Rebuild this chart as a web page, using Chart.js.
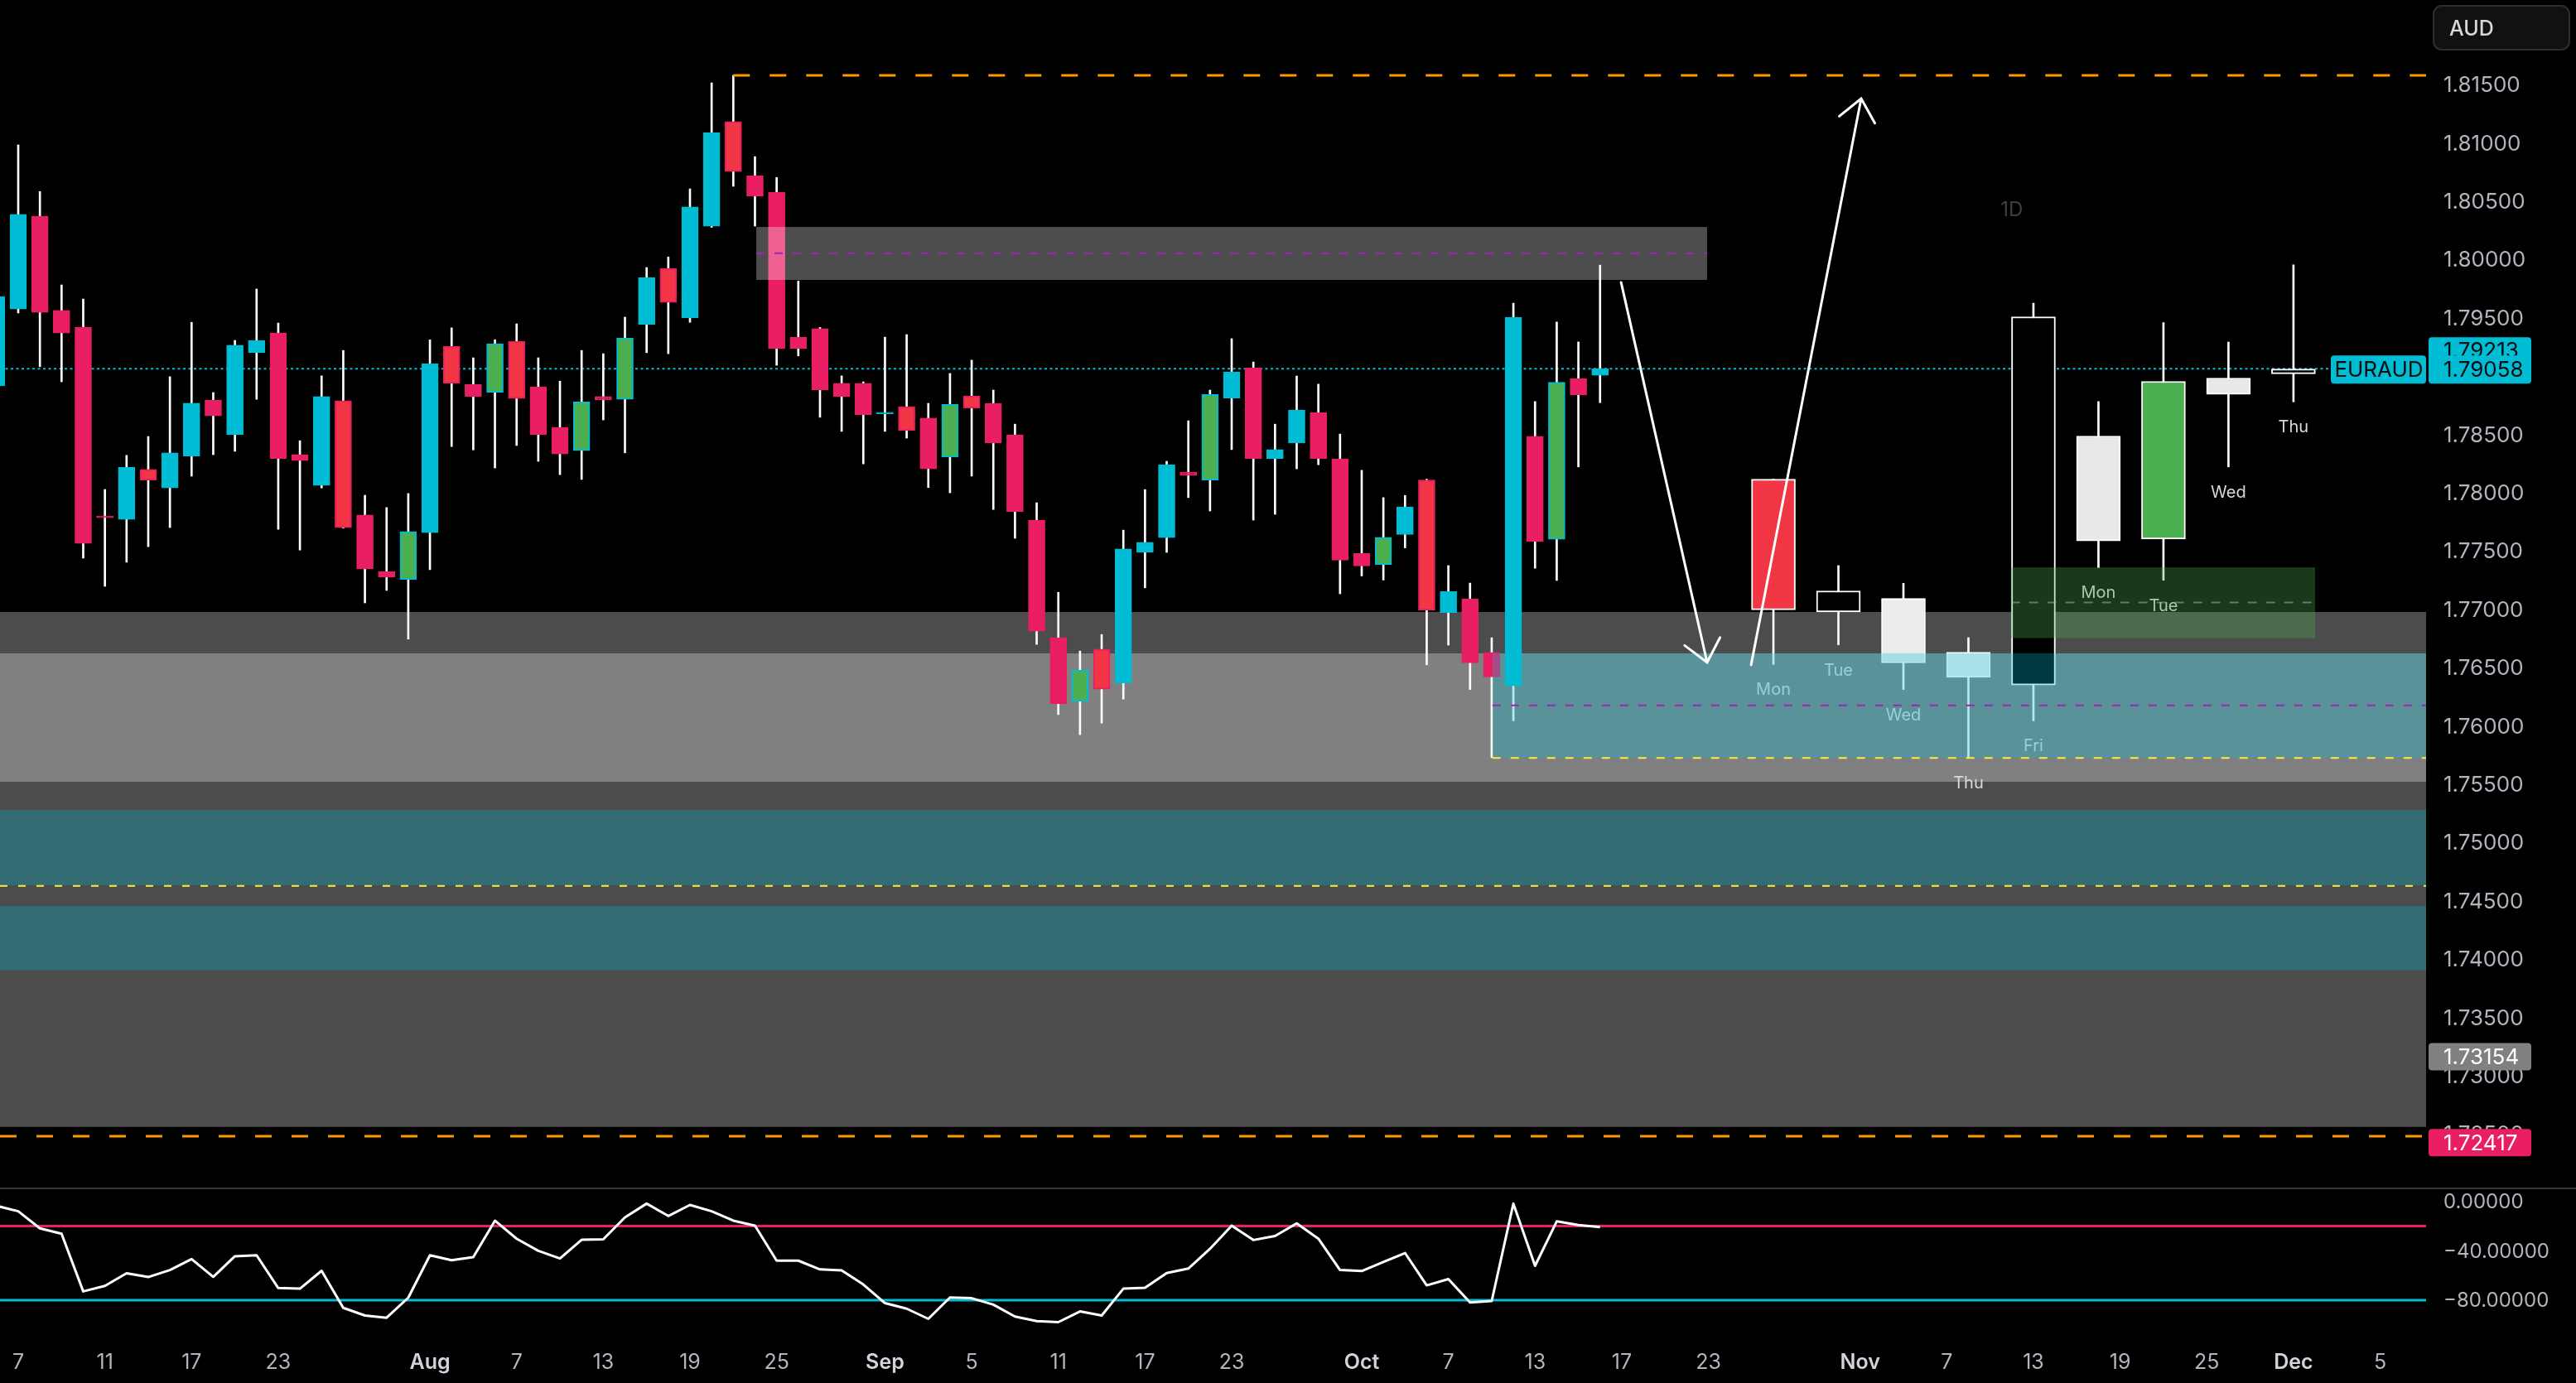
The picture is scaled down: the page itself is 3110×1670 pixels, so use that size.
<!DOCTYPE html>
<html>
<head>
<meta charset="utf-8">
<title>EURAUD 1D</title>
<script src="https://cdn.jsdelivr.net/npm/chart.js@4.4.1/dist/chart.umd.min.js"></script>
<style>
	html, body { margin: 0; padding: 0; background: #000; overflow: hidden; }
	canvas { display: block; }
</style>
</head>
<body>
<canvas id="graphique" width="3110" height="1670"></canvas>
<script>
/* global Chart */

// Daily candles, 4 July -> 16 October 2025
const dates = [
	"2025-07-04", "2025-07-07", "2025-07-08", "2025-07-09", "2025-07-10", "2025-07-11", "2025-07-14", "2025-07-15", "2025-07-16", "2025-07-17",
	"2025-07-18", "2025-07-21", "2025-07-22", "2025-07-23", "2025-07-24", "2025-07-25", "2025-07-28", "2025-07-29", "2025-07-30", "2025-07-31",
	"2025-08-01", "2025-08-04", "2025-08-05", "2025-08-06", "2025-08-07", "2025-08-08", "2025-08-11", "2025-08-12", "2025-08-13", "2025-08-14",
	"2025-08-15", "2025-08-18", "2025-08-19", "2025-08-20", "2025-08-21", "2025-08-22", "2025-08-25", "2025-08-26", "2025-08-27", "2025-08-28",
	"2025-08-29", "2025-09-01", "2025-09-02", "2025-09-03", "2025-09-04", "2025-09-05", "2025-09-08", "2025-09-09", "2025-09-10", "2025-09-11",
	"2025-09-12", "2025-09-15", "2025-09-16", "2025-09-17", "2025-09-18", "2025-09-19", "2025-09-22", "2025-09-23", "2025-09-24", "2025-09-25",
	"2025-09-26", "2025-09-29", "2025-09-30", "2025-10-01", "2025-10-02", "2025-10-03", "2025-10-06", "2025-10-07", "2025-10-08", "2025-10-09",
	"2025-10-10", "2025-10-13", "2025-10-14", "2025-10-15", "2025-10-16"
];
const opens = [
	1.78910, 1.79570, 1.80365, 1.79557, 1.79414, 1.77790, 1.77766, 1.78193, 1.78035, 1.78308,
	1.78789, 1.78491, 1.79195, 1.79364, 1.78320, 1.78057, 1.78783, 1.77803, 1.77318, 1.77251,
	1.77651, 1.79249, 1.78923, 1.78856, 1.79293, 1.78903, 1.78555, 1.78355, 1.78818, 1.78795,
	1.79436, 1.79918, 1.79494, 1.80280, 1.81177, 1.80714, 1.80571, 1.79328, 1.79401, 1.78932,
	1.78932, 1.78670, 1.78732, 1.78634, 1.78300, 1.78824, 1.78760, 1.78491, 1.77759, 1.76750,
	1.76205, 1.76652, 1.76363, 1.77482, 1.77609, 1.78170, 1.78101, 1.78805, 1.79065, 1.78285,
	1.78421, 1.78681, 1.78285, 1.77473, 1.77378, 1.77635, 1.78104, 1.76966, 1.77083, 1.76624,
	1.76338, 1.78478, 1.77594, 1.78973, 1.79001
];
const highs = [
	1.79750, 1.80977, 1.80577, 1.79776, 1.79655, 1.78022, 1.78314, 1.78476, 1.78989, 1.79455,
	1.78853, 1.79300, 1.79741, 1.79449, 1.78440, 1.78996, 1.79214, 1.77972, 1.77867, 1.77987,
	1.79306, 1.79408, 1.79151, 1.79306, 1.79442, 1.79151, 1.78951, 1.79214, 1.79186, 1.79500,
	1.79925, 1.80016, 1.80600, 1.81509, 1.81573, 1.80876, 1.80698, 1.79810, 1.79411, 1.78996,
	1.78945, 1.79328, 1.79350, 1.78760, 1.79017, 1.79131, 1.78874, 1.78582, 1.77908, 1.77140,
	1.76636, 1.76778, 1.77673, 1.78021, 1.78263, 1.78611, 1.78874, 1.79315, 1.79115, 1.78582,
	1.78995, 1.78925, 1.78497, 1.78186, 1.77952, 1.77971, 1.78110, 1.77369, 1.77219, 1.76750,
	1.79619, 1.78776, 1.79458, 1.79287, 1.79946
];
const lows = [
	1.78850, 1.79535, 1.79075, 1.78945, 1.77433, 1.77191, 1.77398, 1.77531, 1.77695, 1.78136,
	1.78320, 1.78349, 1.78795, 1.77680, 1.77502, 1.78035, 1.77690, 1.77049, 1.77156, 1.76738,
	1.77334, 1.78390, 1.78361, 1.78206, 1.78399, 1.78263, 1.78149, 1.78108, 1.78618, 1.78336,
	1.79195, 1.79186, 1.79455, 1.80270, 1.80622, 1.80280, 1.79087, 1.79167, 1.78641, 1.78520,
	1.78241, 1.78520, 1.78462, 1.78038, 1.77993, 1.78136, 1.77850, 1.77603, 1.76693, 1.76091,
	1.75919, 1.76018, 1.76224, 1.77178, 1.77482, 1.77952, 1.77837, 1.78364, 1.77759, 1.77809,
	1.78199, 1.78234, 1.77127, 1.77280, 1.77245, 1.77521, 1.76518, 1.76687, 1.76306, 1.75722,
	1.76037, 1.77346, 1.77242, 1.78215, 1.78766
];
const closes = [
	1.79677, 1.80381, 1.79541, 1.79364, 1.77559, 1.77780, 1.78212, 1.78102, 1.78336, 1.78761,
	1.78653, 1.79259, 1.79300, 1.78286, 1.78269, 1.78818, 1.77695, 1.77340, 1.77271, 1.77661,
	1.79100, 1.78932, 1.78818, 1.79271, 1.78802, 1.78491, 1.78327, 1.78773, 1.78789, 1.79322,
	1.79839, 1.79626, 1.80445, 1.81082, 1.80749, 1.80536, 1.79230, 1.79230, 1.78875, 1.78818,
	1.78663, 1.78680, 1.78526, 1.78199, 1.78751, 1.78719, 1.78421, 1.77831, 1.76807, 1.76183,
	1.76474, 1.76310, 1.77511, 1.77568, 1.78234, 1.78142, 1.78837, 1.79030, 1.78285, 1.78364,
	1.78703, 1.78285, 1.77416, 1.77365, 1.77612, 1.77872, 1.76988, 1.77146, 1.76535, 1.76414,
	1.79499, 1.77575, 1.78941, 1.78833, 1.79058
];
// bars flagged by the colouring indicator (drawn with a different body fill)
const flagged = [
	0, 0, 0, 0, 0, 0, 0, 1, 0, 0,
	0, 0, 0, 0, 0, 0, 1, 0, 0, 1,
	0, 1, 0, 1, 1, 0, 0, 1, 0, 1,
	0, 1, 0, 0, 1, 0, 0, 0, 0, 0,
	0, 0, 1, 0, 1, 1, 0, 0, 0, 0,
	1, 1, 0, 0, 0, 0, 1, 0, 0, 0,
	0, 0, 0, 0, 1, 0, 1, 0, 0, 0,
	0, 0, 1, 0, 0
];
// Williams %R
const willR = [
	-3.6, -8, -21.8, -26.2, -72.9, -68.4, -58.2, -61.3, -55.6, -46.7,
	-61.1, -44.4, -43.6, -70.2, -70.7, -56.2, -86.2, -92.4, -94.2, -78,
	-43.6, -47.6, -45.1, -15.6, -30.2, -40, -46.2, -31.1, -30.7, -12.9,
	-1.8, -11.8, -2.9, -8, -15.6, -19.6, -48, -48, -55.1, -55.8,
	-67.3, -82.4, -86.9, -95.1, -77.8, -78.4, -83.6, -93.3, -96.9, -97.8,
	-89.1, -92.4, -70.7, -70, -58, -54.4, -38.4, -19.6, -31.3, -28,
	-17.8, -30.2, -55.6, -56.4, -49.1, -41.8, -68, -62.9, -81.8, -80.7,
	-1.8, -52.2, -16.2, -19.1, -20.9
];
const oscLevels = [-20, -80];

// projected candles (bar index counted from 7 July = 0)
const ghostX = [81, 84, 87, 90, 93, 96, 99, 102, 105];
const ghostDays = ["Mon", "Tue", "Wed", "Thu", "Fri", "Mon", "Tue", "Wed", "Thu"];
const ghostOpen = [1.78110, 1.76972, 1.77087, 1.76626, 1.76344, 1.78480, 1.77597, 1.78977, 1.79014];
const ghostHigh = [1.78110, 1.77369, 1.77217, 1.76751, 1.79619, 1.78776, 1.79452, 1.79286, 1.79948];
const ghostLow = [1.76521, 1.76690, 1.76306, 1.75722, 1.76038, 1.77352, 1.77244, 1.78215, 1.78773];
const ghostClose = [1.76989, 1.77152, 1.76534, 1.76411, 1.79503, 1.77580, 1.78949, 1.78837, 1.79055];

// axis ticks
const tickPos = [0, 4, 8, 12, 19, 23, 27, 31, 35, 40, 44, 48, 52, 56, 62, 66, 70, 74, 78, 85, 89, 93, 97, 101, 105, 109];
const tickText = ["7", "11", "17", "23", "Aug", "7", "13", "19", "25", "Sep", "5", "11", "17", "23", "Oct", "7", "13", "17", "23", "Nov", "7", "13", "19", "25", "Dec", "5"];
const priceTicks = [1.815, 1.81, 1.805, 1.80, 1.795, 1.79, 1.785, 1.78, 1.775, 1.77, 1.765, 1.76, 1.755, 1.75, 1.745, 1.74, 1.735, 1.73, 1.725];
const oscTicks = [0, -40, -80];

// drawn levels and zones
const askPrice = 1.79213;
const zoneOuter = [1.76971, 1.72555];
const zoneInner = [1.76616, 1.75515];
const zoneTeal = [[1.75273, 1.74627], [1.74450, 1.73898]];
const zoneMid = 1.74622;
const highLevel = [33, 1.81573];
const lowLevel = 1.72475;
const topBox = [34.06, 77.94, 1.80273, 1.79819, 1.80048];
const tealBox = [68.03, 1.76617, 1.75720, 1.76170];
const greenBox = [91.96, 106.0, 1.77354, 1.76748, 1.77053];
const arrowDown = [73.97, 1.79798, 77.94, 1.76538];
const arrowUp = [79.97, 1.76517, 85.05, 1.81374];
const tagGrey = 1.73154;
const tagPink = 1.72417;

const CYAN = "#00BCD4";
const PINK = "#E91E63";
const RED = "#F23645";
const GREEN = "#4CAF50";
const ghostFill = [RED, "#000000", "#ececec", "#f0f0f0", "#000000", "#e8e8e8", GREEN, "#e8e8e8", "#000000"];

// build the datasets
const wickData = [], bodyData = [], bodyFill = [], bodyEdge = [], oscData = [];
for (let k = 0; k < dates.length; k++) {
	const x = k - 1;
	const up = closes[k] >= opens[k];
	wickData.push({ x: x, y: [lows[k], highs[k]] });
	bodyData.push({ x: x, y: [opens[k], closes[k]] });
	bodyEdge.push(up ? CYAN : PINK);
	bodyFill.push(flagged[k] ? (up ? GREEN : RED) : (up ? CYAN : PINK));
	oscData.push({ x: x, y: willR[k] });
}
const ghostWicks = [], ghostBodies = [];
for (let k = 0; k < ghostX.length; k++) {
	ghostWicks.push({ x: ghostX[k], y: [ghostLow[k], ghostHigh[k]] });
	ghostBodies.push({ x: ghostX[k], y: [ghostOpen[k], ghostClose[k]] });
}

function band(ctx, y, x1, x2, top, bottom, color) {
	const y1 = y.getPixelForValue(top);
	const y2 = y.getPixelForValue(bottom);
	ctx.fillStyle = color;
	ctx.fillRect(x1, y1, x2 - x1, y2 - y1);
}

function hLine(ctx, x1, x2, yy, color, width, dash) {
	ctx.beginPath();
	ctx.setLineDash(dash);
	ctx.strokeStyle = color;
	ctx.lineWidth = width;
	ctx.moveTo(x1, yy);
	ctx.lineTo(x2, yy);
	ctx.stroke();
	ctx.setLineDash([]);
}

function arrow(ctx, x, y, a) {
	const x1 = x.getPixelForValue(a[0]), y1 = y.getPixelForValue(a[1]);
	const x2 = x.getPixelForValue(a[2]), y2 = y.getPixelForValue(a[3]);
	const ang = Math.atan2(y2 - y1, x2 - x1);
	const len = 34;
	ctx.beginPath();
	ctx.strokeStyle = "#ffffff";
	ctx.lineWidth = 3;
	ctx.lineCap = "round";
	ctx.moveTo(x1, y1);
	ctx.lineTo(x2, y2);
	ctx.moveTo(x2 - len * Math.cos(ang - 0.7), y2 - len * Math.sin(ang - 0.7));
	ctx.lineTo(x2, y2);
	ctx.lineTo(x2 - len * Math.cos(ang + 0.7), y2 - len * Math.sin(ang + 0.7));
	ctx.stroke();
}

function tag(ctx, x1, x2, top, bottom, bg, text, color, tx, ty) {
	ctx.fillStyle = bg;
	ctx.beginPath();
	ctx.roundRect(x1, top, x2 - x1, bottom - top, 4);
	ctx.fill();
	ctx.fillStyle = color;
	ctx.textBaseline = "middle";
	ctx.fillText(text, tx, ty);
}

// zones, lines and drawings that TradingView puts around the candles
const drawings = {
	id: "drawings",
	beforeDatasetsDraw(chart) {
		const { ctx, scales: { x, y } } = chart;
		ctx.save();
		ctx.beginPath();
		ctx.rect(x.left, y.top, x.right - x.left, y.bottom - y.top);
		ctx.clip();
		band(ctx, y, x.left, x.right, zoneOuter[0], zoneOuter[1], "#4c4c4c");
		band(ctx, y, x.left, x.right, zoneInner[0], zoneInner[1], "#808080");
		for (const z of zoneTeal) {
			band(ctx, y, x.left, x.right, z[0], z[1], "#346c73");
		}
		hLine(ctx, x.left, x.right, y.getPixelForValue(zoneMid), "#ffeb3b", 2, [9, 13]);
		// last price line
		hLine(ctx, x.left, x.right, y.getPixelForValue(closes[closes.length - 1]), CYAN, 2, [3, 3.5]);
		ctx.restore();
	},
	afterDatasetsDraw(chart) {
		const { ctx, scales: { x, y } } = chart;
		ctx.save();
		ctx.beginPath();
		ctx.rect(x.left, y.top, x.right - x.left, y.bottom - y.top);
		ctx.clip();

		// day names under the projected candles
		ctx.font = "20px Inter";
		ctx.fillStyle = "#d9d9d9";
		ctx.textAlign = "center";
		ctx.textBaseline = "middle";
		for (let k = 0; k < ghostX.length; k++) {
			ctx.fillText(ghostDays[k], x.getPixelForValue(ghostX[k]), y.getPixelForValue(ghostLow[k]) + 31);
		}

		// teal range box
		const tx = x.getPixelForValue(tealBox[0]);
		band(ctx, y, tx, x.right, tealBox[1], tealBox[2], "rgba(0, 188, 212, 0.3)");
		hLine(ctx, tx, x.right, y.getPixelForValue(tealBox[3]), "#9c27b0", 2, [10, 12]);
		hLine(ctx, tx, x.right, y.getPixelForValue(tealBox[2]), "#ffeb3b", 2, [10, 12]);

		// green target box
		const g1 = x.getPixelForValue(greenBox[0]), g2 = x.getPixelForValue(greenBox[1]);
		band(ctx, y, g1, g2, greenBox[2], greenBox[3], "rgba(76, 175, 80, 0.33)");
		hLine(ctx, g1, g2, y.getPixelForValue(greenBox[4]), "rgba(170, 170, 170, 0.55)", 2, [11, 11]);

		// grey supply box
		const b1 = x.getPixelForValue(topBox[0]), b2 = x.getPixelForValue(topBox[1]);
		band(ctx, y, b1, b2, topBox[2], topBox[3], "rgba(255, 255, 255, 0.3)");
		hLine(ctx, b1, b2, y.getPixelForValue(topBox[4]), "#9c27b0", 2, [10, 12]);

		// orange high / low levels
		hLine(ctx, x.getPixelForValue(highLevel[0]), x.right, y.getPixelForValue(highLevel[1]), "#ff9800", 3, [20, 24]);
		hLine(ctx, x.left, x.right, y.getPixelForValue(lowLevel), "#ff9800", 3, [20, 24]);

		arrow(ctx, x, y, arrowDown);
		arrow(ctx, x, y, arrowUp);

		ctx.font = "24px Inter";
		ctx.fillStyle = "#3c3f46";
		ctx.fillText("1D", x.getPixelForValue(92), y.getPixelForValue(1.80415));
		ctx.restore();
	},
	afterDraw(chart) {
		const { ctx, scales: { x, y } } = chart;
		ctx.save();
		// pane separator
		ctx.fillStyle = "#33363d";
		ctx.fillRect(0, y.bottom - 1, chart.width, 2);

		// currency box
		ctx.fillStyle = "#111111";
		ctx.strokeStyle = "#2e2e2e";
		ctx.lineWidth = 2;
		ctx.beginPath();
		ctx.roundRect(2938, 7, 164, 53, 10);
		ctx.fill();
		ctx.stroke();
		ctx.font = "500 25px Inter";
		ctx.fillStyle = "#d8d8d8";
		ctx.textAlign = "left";
		ctx.textBaseline = "middle";
		ctx.fillText("AUD", 2957, 35);

		// price tags on the axis
		ctx.font = "26px Inter";
		const lx = x.right + 21;
		const yAsk = y.getPixelForValue(askPrice);
		const yLast = y.getPixelForValue(closes[closes.length - 1]);
		tag(ctx, x.right + 3, x.right + 127, yAsk - 16, yAsk + 15, CYAN, askPrice.toFixed(5), "#0d0d0d", lx, yAsk + 1);
		tag(ctx, x.right + 3, x.right + 127, yLast - 16, yLast + 18, CYAN, closes[closes.length - 1].toFixed(5), "#0d0d0d", lx, yLast + 2);
		ctx.textAlign = "center";
		tag(ctx, x.right - 115, x.right, yLast - 16, yLast + 18, CYAN, "EURAUD", "#0d0d0d", x.right - 57, yLast + 2);
		ctx.textAlign = "left";
		const yg = y.getPixelForValue(tagGrey);
		tag(ctx, x.right + 3, x.right + 127, yg - 17, yg + 16, "#808080", tagGrey.toFixed(5), "#ffffff", lx, yg + 1);
		const yp = y.getPixelForValue(tagPink);
		tag(ctx, x.right + 3, x.right + 127, yp - 17, yp + 16, PINK, tagPink.toFixed(5), "#ffffff", lx, yp + 1);
		ctx.restore();
	}
};

Chart.defaults.font.family = "Inter";

new Chart(document.querySelector("#graphique"), {
	type: "bar",
	data: {
		datasets: [
			{ type: "bar", data: wickData, backgroundColor: "#ffffff", borderWidth: 0, barThickness: 2, grouped: false, order: 4 },
			{ type: "bar", data: bodyData, backgroundColor: bodyFill, borderColor: bodyEdge, borderWidth: 2, borderSkipped: false, barThickness: 20, minBarLength: 2, grouped: false, order: 3 },
			{ type: "bar", data: ghostWicks, backgroundColor: "#ffffff", borderWidth: 0, barThickness: 2, grouped: false, order: 4 },
			{ type: "bar", data: ghostBodies, backgroundColor: ghostFill, borderColor: "#ffffff", borderWidth: 2, borderSkipped: false, barThickness: 53, minBarLength: 2, grouped: false, order: 3 },
			{ type: "line", data: [{ x: -1, y: oscLevels[0] }, { x: 112, y: oscLevels[0] }], yAxisID: "y2", borderColor: PINK, borderWidth: 3, pointRadius: 0, order: 2 },
			{ type: "line", data: [{ x: -1, y: oscLevels[1] }, { x: 112, y: oscLevels[1] }], yAxisID: "y2", borderColor: CYAN, borderWidth: 3, pointRadius: 0, order: 2 },
			{ type: "line", data: oscData, yAxisID: "y2", borderColor: "#ffffff", borderWidth: 3, pointRadius: 0, borderJoinStyle: "round", tension: 0, order: 1 }
		]
	},
	options: {
		responsive: false,
		animation: false,
		layout: { padding: 0 },
		plugins: { legend: { display: false }, tooltip: { enabled: false } },
		scales: {
			x: {
				type: "linear",
				min: -0.841,
				max: 111.12,
				offset: false,
				grid: { display: false, drawTicks: false },
				border: { display: false },
				afterBuildTicks: (s) => { s.ticks = tickPos.map(v => ({ value: v })); },
				afterFit: (s) => { s.height = 55; s.paddingLeft = 0; s.paddingRight = 0; },
				ticks: {
					autoSkip: false,
					maxRotation: 0,
					minRotation: 0,
					padding: 15,
					callback: (v, i) => tickText[i],
					color: (c) => (/[A-Za-z]/.test(tickText[c.index]) ? "#d1d4dc" : "#b2b5be"),
					font: (c) => ({ family: "Inter", size: 25, weight: /[A-Za-z]/.test(tickText[c.index]) ? "600" : "400" })
				}
			},
			y: {
				position: "right",
				stack: "panes",
				stackWeight: 1435,
				min: 1.720277,
				max: 1.822195,
				grid: { display: false, drawTicks: false },
				border: { display: false },
				afterBuildTicks: (s) => { s.ticks = priceTicks.map(v => ({ value: v })); },
				afterFit: (s) => { s.width = 181; s.paddingTop = 0; s.paddingBottom = 0; },
				ticks: { autoSkip: false, padding: 21, labelOffset: 2, color: "#b2b5be", font: { size: 26 }, callback: (v) => v.toFixed(5) }
			},
			y2: {
				position: "right",
				stack: "panes",
				stackWeight: 180,
				min: -110.2,
				max: 10.53,
				grid: { display: false, drawTicks: false },
				border: { display: false },
				afterBuildTicks: (s) => { s.ticks = oscTicks.map(v => ({ value: v })); },
				afterFit: (s) => { s.width = 181; s.paddingTop = 0; s.paddingBottom = 0; },
				ticks: { autoSkip: false, padding: 21, labelOffset: 1, color: "#b2b5be", font: { size: 24 }, callback: (v) => (v < 0 ? "\u2212" : "") + Math.abs(v).toFixed(5) }
			}
		}
	},
	plugins: [drawings]
});
</script>
</body>
</html>
